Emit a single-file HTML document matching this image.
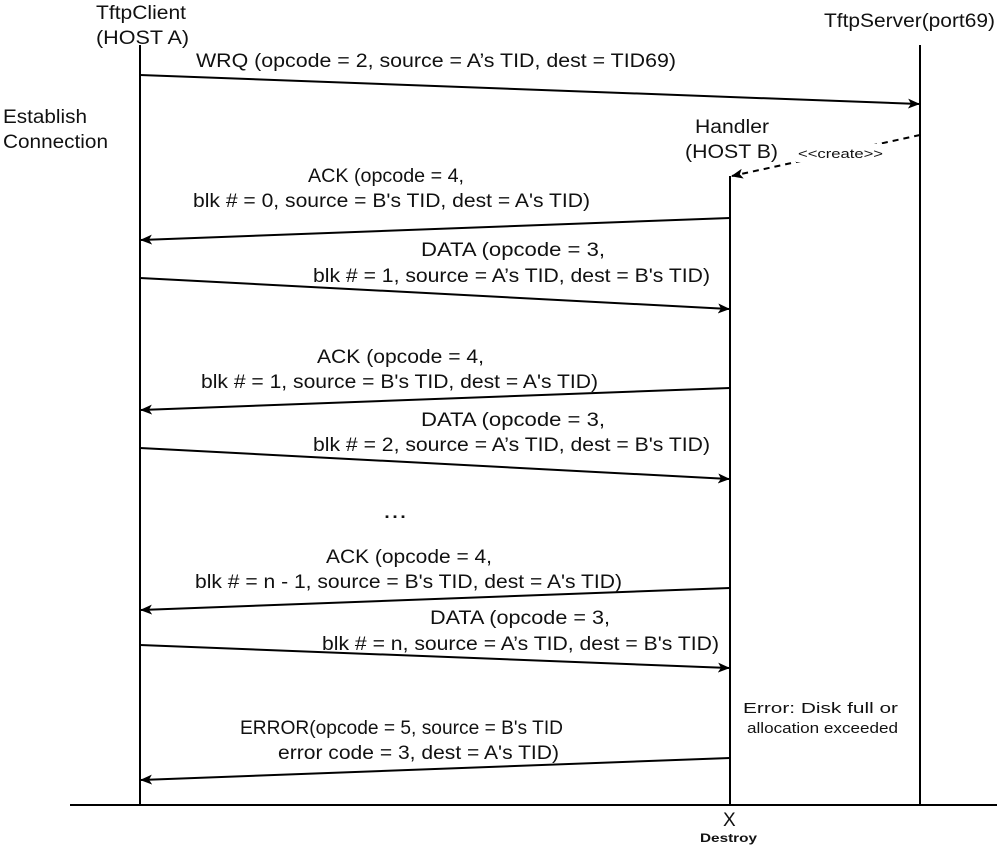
<!DOCTYPE html>
<html><head><meta charset="utf-8"><style>
html,body{margin:0;padding:0;background:#fff;}
svg{display:block}
text{font-family:"Liberation Sans",sans-serif;fill:#111;}
</style></head><body>
<svg width="997" height="846" viewBox="0 0 997 846" xmlns="http://www.w3.org/2000/svg">
<defs>
<marker id="a" markerWidth="12" markerHeight="10" refX="11" refY="5" orient="auto" markerUnits="userSpaceOnUse">
<path d="M0,0 L12,5 L0,10 L3,5 Z" fill="#000"/></marker>
</defs>
<g stroke="#000" stroke-width="2" fill="none">
<line x1="140" y1="45" x2="140" y2="805"/>
<line x1="920" y1="45" x2="920" y2="805"/>
<line x1="730" y1="176" x2="730" y2="805"/>
<line x1="70" y1="805" x2="997" y2="805"/>
<line x1="140" y1="75" x2="919" y2="104" marker-end="url(#a)"/>
<line x1="920" y1="135" x2="732" y2="176" stroke-dasharray="6,5" marker-end="url(#a)"/>
<line x1="730" y1="218" x2="141" y2="240" marker-end="url(#a)"/>
<line x1="140" y1="278" x2="729" y2="309" marker-end="url(#a)"/>
<line x1="730" y1="388" x2="141" y2="410" marker-end="url(#a)"/>
<line x1="140" y1="448" x2="729" y2="479" marker-end="url(#a)"/>
<line x1="730" y1="588" x2="141" y2="610" marker-end="url(#a)"/>
<line x1="140" y1="645" x2="729" y2="668" marker-end="url(#a)"/>
<line x1="730" y1="758" x2="141" y2="780" marker-end="url(#a)"/>
</g>
<rect x="796" y="144" width="89" height="18" fill="#fff"/>
<g font-size="19">
<text x="96" y="19" textLength="90" lengthAdjust="spacingAndGlyphs">TftpClient</text>
<text x="96" y="44" textLength="93" lengthAdjust="spacingAndGlyphs">(HOST A)</text>
<text x="824" y="27" textLength="171" lengthAdjust="spacingAndGlyphs">TftpServer(port69)</text>
<text x="196" y="67" textLength="480" lengthAdjust="spacingAndGlyphs">WRQ  (opcode = 2, source = A’s TID, dest = TID69)</text>
<text x="695" y="133" textLength="74" lengthAdjust="spacingAndGlyphs">Handler</text>
<text x="685" y="158" textLength="93" lengthAdjust="spacingAndGlyphs">(HOST B)</text>
<text x="308" y="182" textLength="156" lengthAdjust="spacingAndGlyphs">ACK (opcode = 4,</text>
<text x="193" y="207" textLength="397" lengthAdjust="spacingAndGlyphs">blk # = 0, source = B's TID, dest = A's TID)</text>
<text x="421" y="256" textLength="184" lengthAdjust="spacingAndGlyphs">DATA  (opcode = 3,</text>
<text x="313" y="282" textLength="397" lengthAdjust="spacingAndGlyphs">blk # = 1, source = A’s TID, dest = B's TID)</text>
<text x="317" y="363" textLength="167" lengthAdjust="spacingAndGlyphs">ACK (opcode = 4,</text>
<text x="201" y="388" textLength="397" lengthAdjust="spacingAndGlyphs">blk # = 1, source = B's TID, dest = A's TID)</text>
<text x="421" y="426" textLength="184" lengthAdjust="spacingAndGlyphs">DATA  (opcode = 3,</text>
<text x="313" y="451" textLength="397" lengthAdjust="spacingAndGlyphs">blk # = 2, source = A’s TID, dest = B's TID)</text>
<text x="383" y="518" font-size="24" textLength="24" lengthAdjust="spacingAndGlyphs">...</text>
<text x="326" y="563" textLength="166" lengthAdjust="spacingAndGlyphs">ACK (opcode = 4,</text>
<text x="195" y="588" textLength="427" lengthAdjust="spacingAndGlyphs">blk # = n - 1, source = B's TID, dest = A's TID)</text>
<text x="430" y="624" textLength="180" lengthAdjust="spacingAndGlyphs">DATA  (opcode = 3,</text>
<text x="322" y="650" textLength="397" lengthAdjust="spacingAndGlyphs">blk # = n, source = A’s TID, dest = B's TID)</text>
<text x="240" y="734" textLength="323" lengthAdjust="spacingAndGlyphs">ERROR(opcode = 5, source = B's TID</text>
<text x="278" y="759" textLength="281" lengthAdjust="spacingAndGlyphs">error code = 3, dest = A's TID)</text>
<text x="723" y="826">X</text>
<text x="3" y="123" textLength="84" lengthAdjust="spacingAndGlyphs">Establish</text>
<text x="3" y="148" textLength="105" lengthAdjust="spacingAndGlyphs">Connection</text>
</g>
<text x="798" y="158" font-size="13" textLength="85" lengthAdjust="spacingAndGlyphs">&lt;&lt;create&gt;&gt;</text>
<text x="743" y="713" font-size="15" textLength="155" lengthAdjust="spacingAndGlyphs">Error: Disk full or</text>
<text x="747" y="733" font-size="15" textLength="151" lengthAdjust="spacingAndGlyphs">allocation exceeded</text>
<text x="700" y="842" font-size="12" font-weight="bold" textLength="57" lengthAdjust="spacingAndGlyphs">Destroy</text>
</svg>
</body></html>
